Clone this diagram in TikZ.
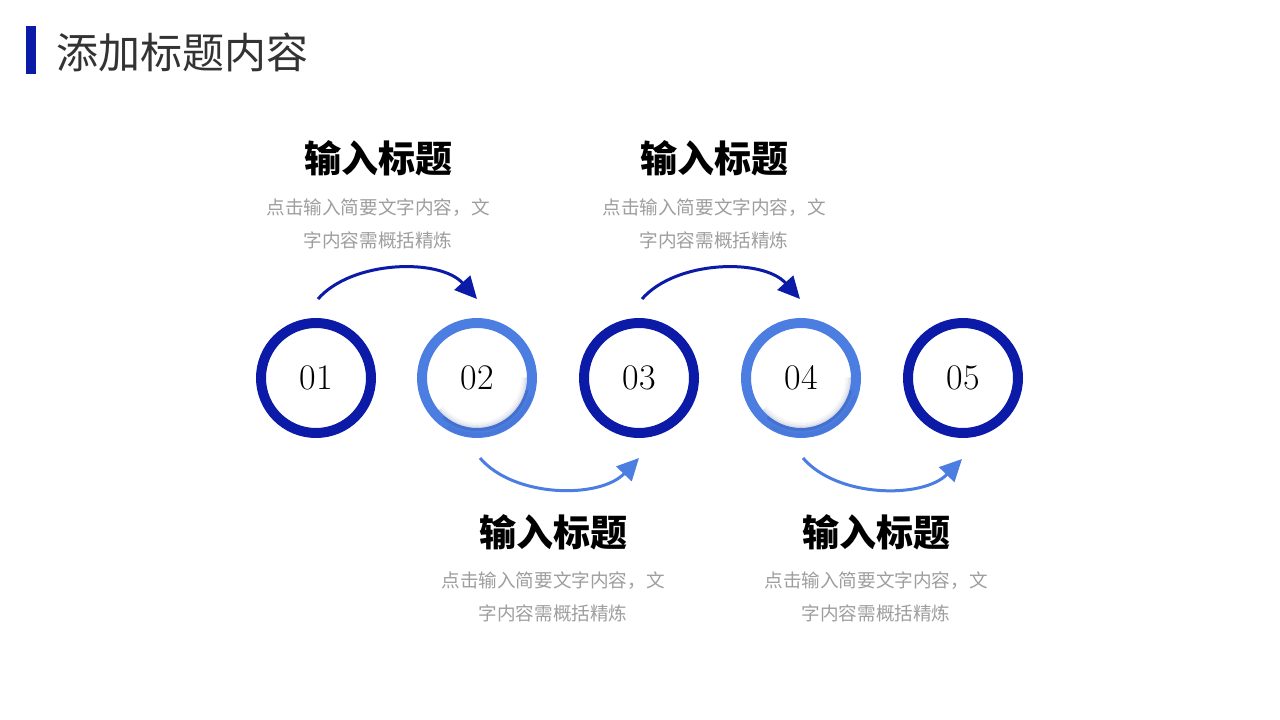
\documentclass[tikz,border=0pt]{standalone}
\usepackage{fontspec}
\newfontfamily\cjk{Noto Sans CJK SC}
\usetikzlibrary{arrows.meta}
\definecolor{dkblue}{RGB}{12,26,168}
\definecolor{ltblue}{RGB}{76,126,226}
\definecolor{shadowcol}{RGB}{35,55,120}
\definecolor{graytxt}{RGB}{158,158,158}
\definecolor{titletxt}{RGB}{51,51,51}
\begin{document}
\begin{tikzpicture}[x=1pt,y=-1pt,
 ring/.style={circle, draw, line width=10pt, minimum size=110pt, inner sep=0pt, font=\fontsize{36}{36}\selectfont},
 darkring/.style={ring, draw=dkblue},
 lightring/.style={ring, draw=ltblue},
 heading/.style={font=\cjk\bfseries\fontsize{37}{40}\selectfont, text=black, inner sep=0pt},
 desc/.style={font=\cjk\fontsize{18.6}{33}\selectfont, text=graytxt, align=center, inner sep=0pt},
 toparrow/.style={draw=dkblue, line width=3pt, -{Triangle[length=22pt,width=21pt]}},
 botarrow/.style={draw=ltblue, line width=3pt, -{Triangle[length=22pt,width=21pt]}},
 inshadow/.style={draw=shadowcol, line cap=round},
]
\useasboundingbox[fill=white] (0,0) rectangle (1280,720);
% title
\fill[dkblue] (26,26) rectangle (36,74);
\node[anchor=west, inner sep=0pt, text=titletxt, font=\cjk\fontsize{42}{46}\selectfont] (title) at (56,52) {添加标题内容};
% soft inner shadows under light rings
\foreach \c in {477,801}{
  \foreach \r/\o in {49.5/0.16, 48/0.10, 46.5/0.06, 45/0.03}{
    \draw[inshadow, opacity=\o, line width=1.6pt] (\c,378) ++(0:\r) arc[start angle=0, end angle=140, radius=\r];
  }
}
% circles
\node[darkring]  (c1) at (316,378) {01};
\node[lightring] (c2) at (477,378) {02};
\node[darkring]  (c3) at (639,378) {03};
\node[lightring] (c4) at (801,378) {04};
\node[darkring]  (c5) at (963,378) {05};
% darker tint on lower part of light rings
\foreach \c in {477,801}{
  \draw[shadowcol, opacity=0.18, line width=3pt, line cap=round] (\c,378) ++(15:51.5) arc[start angle=15, end angle=130, radius=51.5];
  \draw[shadowcol, opacity=0.08, line width=4pt, line cap=round] (\c,378) ++(20:57) arc[start angle=20, end angle=120, radius=57];
}
% arrows
\coordinate (a1s) at (318,299);
\coordinate (a1e) at (477,299);
\coordinate (a2s) at (642,299);
\coordinate (a2e) at (800,299);
\coordinate (b1s) at (480,458);
\coordinate (b1e) at (639,458);
\coordinate (b2s) at (803,458);
\coordinate (b2e) at (962,459);
\draw[toparrow] (a1s) .. controls (352,260) and (440,258) .. (a1e);
\draw[toparrow] (a2s) .. controls (676,260) and (763,258) .. (a2e);
\draw[botarrow] (b1s) .. controls (514,498) and (600,499) .. (b1e);
\draw[botarrow] (b2s) .. controls (837,498) and (923,499) .. (b2e);
% texts
\node[heading] (h1) at (378,158) {输入标题};
\node[desc] (d1) at (378,224) {点击输入简要文字内容，文\\字内容需概括精炼};
\node[heading] (h3) at (714,158) {输入标题};
\node[desc] (d3) at (714,224) {点击输入简要文字内容，文\\字内容需概括精炼};
\node[heading] (h2) at (553,532) {输入标题};
\node[desc] (d2) at (553,597) {点击输入简要文字内容，文\\字内容需概括精炼};
\node[heading] (h4) at (876,532) {输入标题};
\node[desc] (d4) at (876,597) {点击输入简要文字内容，文\\字内容需概括精炼};
\end{tikzpicture}
\end{document}
